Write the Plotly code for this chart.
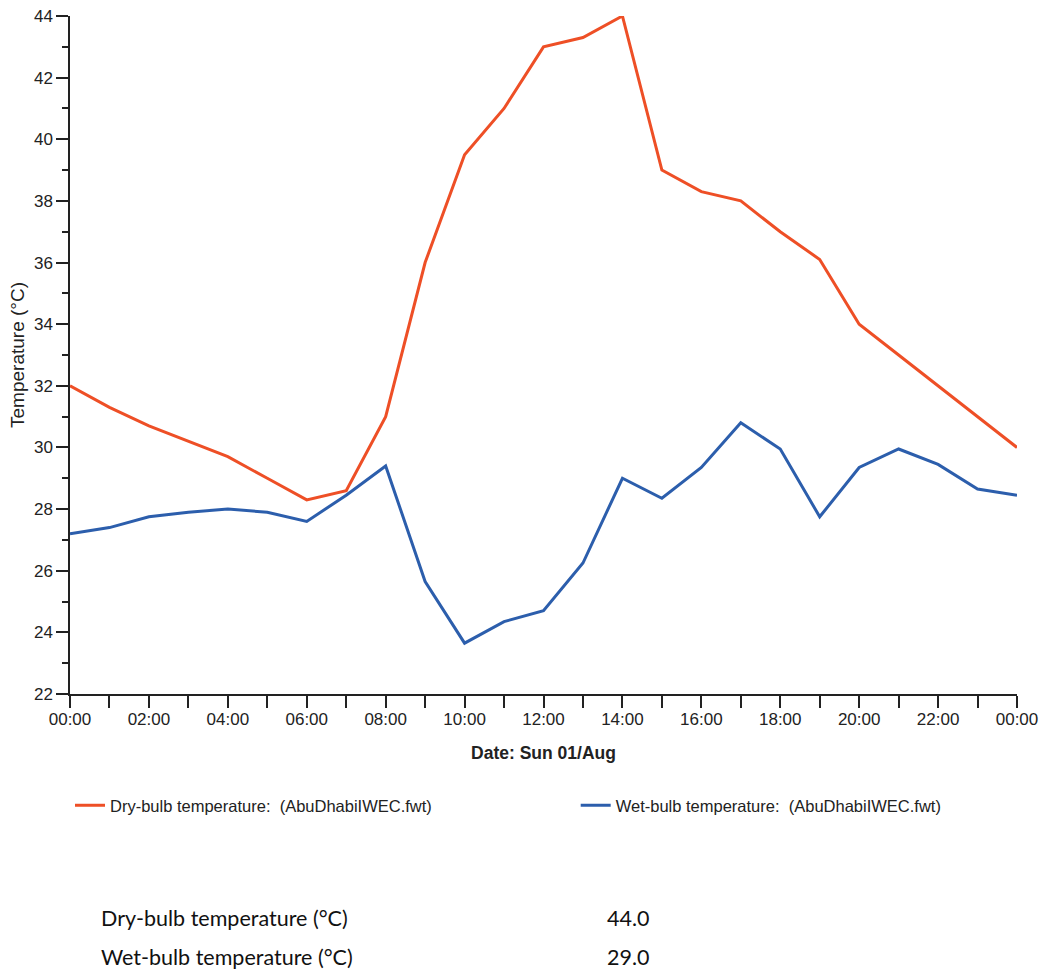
import plotly.graph_objects as go

# Hourly readings for Sun 01/Aug (AbuDhabiIWEC.fwt)
hours = list(range(25))
hour_labels = ["00:00", "01:00", "02:00", "03:00", "04:00", "05:00", "06:00", "07:00",
               "08:00", "09:00", "10:00", "11:00", "12:00", "13:00", "14:00", "15:00",
               "16:00", "17:00", "18:00", "19:00", "20:00", "21:00", "22:00", "23:00",
               "00:00"]
dry_bulb = [32.0, 31.3, 30.7, 30.2, 29.7, 29.0, 28.3, 28.6, 31.0, 36.0, 39.5, 41.0,
            43.0, 43.3, 44.0, 39.0, 38.3, 38.0, 37.0, 36.1, 34.0, 33.0, 32.0, 31.0, 30.0]
wet_bulb = [27.2, 27.4, 27.75, 27.9, 28.0, 27.9, 27.6, 28.45, 29.4, 25.65, 23.65, 24.35,
            24.7, 26.25, 29.0, 28.35, 29.35, 30.8, 29.95, 27.75, 29.35, 29.95, 29.45, 28.65, 28.45]

DRY_COLOR = "#EE4F26"
WET_COLOR = "#2C5EAC"
AXIS_COLOR = "#222222"
TICK_FONT = "Liberation Sans, Arial, sans-serif"
TABLE_FONT = "Lato, sans-serif"

# Values shown in the summary table: peak dry-bulb and the wet-bulb at that hour
peak_idx = dry_bulb.index(max(dry_bulb))
summary_rows = [
    ("Dry-bulb temperature (°C)", dry_bulb[peak_idx]),
    ("Wet-bulb temperature (°C)", wet_bulb[peak_idx]),
]

fig = go.Figure()
fig.add_trace(go.Scatter(
    x=hours, y=dry_bulb, mode="lines",
    name="Dry-bulb temperature:  (AbuDhabiIWEC.fwt)",
    line=dict(color=DRY_COLOR, width=3),
    legend="legend", showlegend=True,
))
fig.add_trace(go.Scatter(
    x=hours, y=wet_bulb, mode="lines",
    name="Wet-bulb temperature:  (AbuDhabiIWEC.fwt)",
    line=dict(color=WET_COLOR, width=3),
    legend="legend2", showlegend=True,
))

legend_common = dict(
    orientation="h", xanchor="left", y=-0.1387, yanchor="top",
    font=dict(size=16.5, family=TICK_FONT, color=AXIS_COLOR),
    bgcolor="rgba(0,0,0,0)",
)

fig.update_layout(
    width=1039, height=971,
    margin=dict(l=70, r=22, t=16, b=277),
    paper_bgcolor="white", plot_bgcolor="white",
    font=dict(family=TICK_FONT, color=AXIS_COLOR),
    showlegend=True,
    legend=dict(x=0, **legend_common),
    legend2=dict(x=0.534, **legend_common),
    xaxis=dict(
        range=[0, 24], automargin=False,
        tickmode="array", tickvals=hours,
        ticktext=[lab if h % 2 == 0 else "" for h, lab in zip(hours, hour_labels)],
        ticks="outside", ticklen=12, tickwidth=1.5, tickcolor=AXIS_COLOR,
        ticklabelstandoff=-3,
        showline=True, linecolor=AXIS_COLOR, linewidth=1.5,
        showgrid=False, zeroline=False,
        tickfont=dict(size=17, family=TICK_FONT, color=AXIS_COLOR),
        title=dict(text="<b>Date: Sun 01/Aug</b>", standoff=19,
                   font=dict(size=17.5, family=TICK_FONT, color=AXIS_COLOR)),
    ),
    yaxis=dict(
        range=[22, 44], dtick=2, tick0=22, automargin=False,
        ticks="outside", ticklen=12, tickwidth=1.5, tickcolor=AXIS_COLOR,
        minor=dict(dtick=1, ticks="outside", ticklen=6, tickwidth=1.5, tickcolor=AXIS_COLOR),
        showline=True, linecolor=AXIS_COLOR, linewidth=1.5,
        showgrid=False, zeroline=False,
        tickfont=dict(size=17, family=TICK_FONT, color=AXIS_COLOR),
        title=dict(text="Temperature (°C)", standoff=4,
                   font=dict(size=19, family=TICK_FONT, color=AXIS_COLOR)),
    ),
)

# Summary table below the legends
row_px = [918, 957]
for (label, value), py in zip(summary_rows, row_px):
    y = (694 - py) / 678
    fig.add_annotation(xref="paper", yref="paper", x=(99 - 70) / 947, y=y,
                       xanchor="left", yanchor="middle", showarrow=False,
                       text=label, font=dict(size=21.5, family=TABLE_FONT, color="#111"))
    fig.add_annotation(xref="paper", yref="paper", x=(651 - 70) / 947, y=y,
                       xanchor="right", yanchor="middle", showarrow=False,
                       text=f"{value:.1f}", font=dict(size=21.5, family=TABLE_FONT, color="#111"))

fig.write_html("out.html")
